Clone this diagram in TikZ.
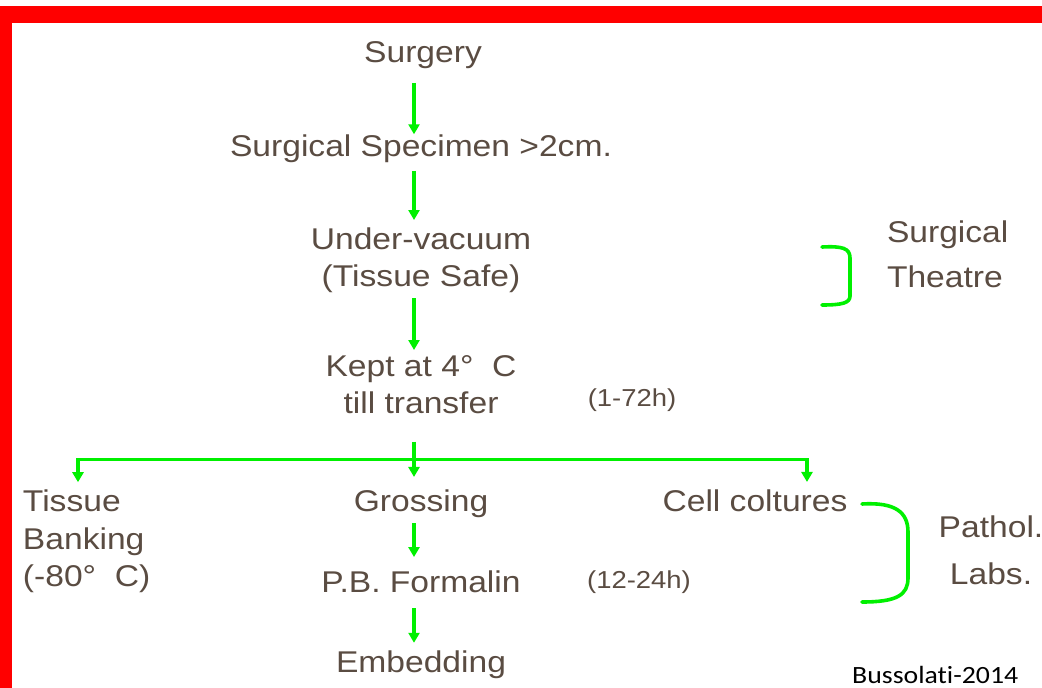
\documentclass[tikz,border=0pt]{standalone}
\usepackage{fontspec}
\setmainfont{Liberation Sans}[FakeStretch=1.12]
\newfontfamily\calib{Carlito}[FakeStretch=1.12,Ligatures=NoCommon]
\usetikzlibrary{arrows.meta}
\definecolor{txt}{HTML}{5A4C42}
\definecolor{grn}{HTML}{00F000}
\definecolor{redb}{HTML}{FF0000}
\tikzset{
  lbl/.style={inner sep=0pt, outer sep=0pt, text=txt, font=\fontsize{30}{37}\selectfont},
  small/.style={inner sep=0pt, outer sep=0pt, text=txt, font=\fontsize{24.5}{30}\selectfont},
  arr/.style={draw=grn, line width=3.3pt, -{Triangle[length=10pt,width=11pt]}},
  brace/.style={draw=grn, line width=3.6pt, line cap=round},
}
\begin{document}
\begin{tikzpicture}[x=1pt,y=-1pt]
\fill[white] (0,0) rectangle (1042,688);
\useasboundingbox (0,0) rectangle (1042,688);
\fill[redb] (0,6) rectangle (1042,23);
\fill[redb] (0,6) rectangle (12,688);
\coordinate (axis) at (414,0);
\coordinate (split) at (414,459.5);
\coordinate (lx) at (78,0);
\coordinate (rx) at (807,0);

\node[lbl, anchor=base] (surgery) at (423,62) {Surgery};
\node[lbl, anchor=base] (spec) at (421,156) {Surgical Specimen >2cm.};
\node[lbl, align=center, anchor=north] (uv) at (421,227.5) {Under-vacuum\\(Tissue Safe)};
\node[lbl, align=center, anchor=north] (kept) at (421,355.5) {Kept at 4°~~C\\till transfer};
\node[small, anchor=base] (h1) at (632,406) {(1-72h)};
\node[lbl, align=left, anchor=north west, font=\fontsize{30}{45}\selectfont] (st) at (887,220.5) {Surgical\\Theatre};
\node[lbl, align=left, anchor=north west, font=\fontsize{30}{37.5}\selectfont] (tb) at (23,490.2) {Tissue\\Banking\\(-80°~~C)};
\node[lbl, anchor=base] (gros) at (421,511.7) {Grossing};
\node[lbl, anchor=base] (form) at (421,592) {P.B. Formalin};
\node[lbl, anchor=base] (emb) at (421,672) {Embedding};
\node[lbl, anchor=base] (cell) at (755,511.7) {Cell coltures};
\node[small, anchor=base] (h2) at (639,588) {(12-24h)};
\node[lbl, align=center, anchor=north, font=\fontsize{30}{47}\selectfont] (pl) at (991,515.5) {Pathol.\\Labs.};
\node[anchor=base west, inner sep=0pt, font=\calib\fontsize{24.8}{30}\selectfont] (buss) at (852,683) {Bussolat\kern0pt{}i-2014};

\draw[arr, shorten <=14.7pt] (surgery.south -| axis) -- (spec.north -| axis);
\draw[arr, shorten <=8.7pt, shorten >=7.5pt] (spec.south -| axis) -- (uv.north -| axis);
\draw[arr, shorten <=5.7pt, shorten >=5.5pt] (uv.south -| axis) -- (kept.north -| axis);
\draw[arr, shorten <=28pt, shorten >=13pt] (kept.south -| axis) -- (gros.north -| axis);
\draw[arr, shorten >=8pt] (split) -| (tb.north -| lx);
\draw[arr, shorten >=8pt] (split) -| (cell.north -| rx);
\draw[arr, shorten <=5.3pt, shorten >=13.2pt] (gros.south -| axis) -- (form.north -| axis);
\draw[arr, shorten <=16pt, shorten >=7.5pt] (form.south -| axis) -- (emb.north -| axis);

\draw[brace] (822,247) .. controls (842,246) and (850,248) .. (850,258) -- (850,296) .. controls (850,303) and (842,305) .. (822,305);
\draw[brace] (862,504) .. controls (895,502) and (908,512) .. (908,532) -- (908,578) .. controls (908,595) and (897,602) .. (862,602);
\end{tikzpicture}
\end{document}
